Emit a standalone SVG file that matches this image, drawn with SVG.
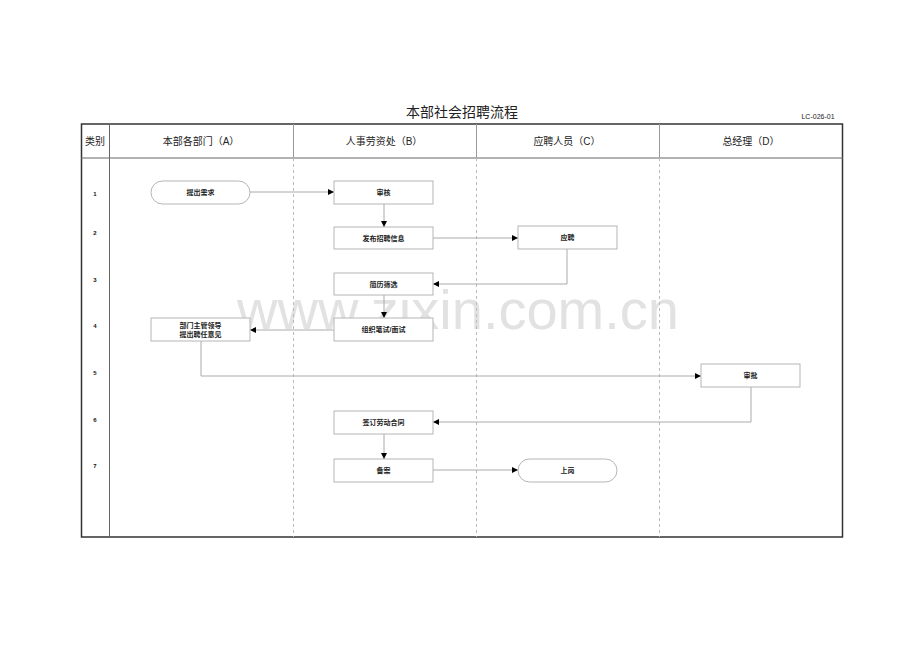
<svg xmlns="http://www.w3.org/2000/svg" width="920" height="651" viewBox="0 0 920 651">
<defs>
<marker id="ah" viewBox="0 0 10 10" refX="10" refY="5" markerWidth="6" markerHeight="6" markerUnits="userSpaceOnUse" orient="auto">
<path d="M0,0 L10,5 L0,10 z" fill="#000"/>
</marker>
<style>
.t{font-family:"Liberation Sans","Noto Sans CJK SC",sans-serif;fill:#222;}
.hd{font-size:10px;text-anchor:middle;}
.nt{font-size:7px;font-weight:bold;text-anchor:middle;}
.rn{font-size:6px;font-weight:bold;text-anchor:middle;fill:#111;}
.box{fill:#fff;stroke:#b5b5b5;stroke-width:1;}
.cn{fill:none;stroke:#aaa;stroke-width:1;marker-end:url(#ah);}
.lane{stroke:#bbb;stroke-width:1;stroke-dasharray:3,3;}
</style>
</defs>
<rect width="920" height="651" fill="#fff"/>
<text x="462" y="117" class="t" font-size="14" text-anchor="middle">本部社会招聘流程</text>
<text x="818" y="119" class="t" font-size="7" text-anchor="middle">LC-026-01</text>
<text x="458" y="329" font-family="Liberation Sans,sans-serif" font-size="56" fill="#e2e2e2" text-anchor="middle">www.zixin.com.cn</text>
<g id="frame">
<rect x="81.5" y="124" width="761" height="413" fill="none" stroke="#333" stroke-width="1.5"/>
<line x1="81" y1="158" x2="843" y2="158" stroke="#666" stroke-width="1"/>
<line x1="109.5" y1="124" x2="109.5" y2="537" stroke="#666" stroke-width="1"/>
<line x1="293.5" y1="124" x2="293.5" y2="158" stroke="#999"/>
<line x1="476.5" y1="124" x2="476.5" y2="158" stroke="#999"/>
<line x1="659.5" y1="124" x2="659.5" y2="158" stroke="#999"/>
<line x1="293.5" y1="158" x2="293.5" y2="537" class="lane"/>
<line x1="476.5" y1="158" x2="476.5" y2="537" class="lane"/>
<line x1="659.5" y1="158" x2="659.5" y2="537" class="lane"/>
<text x="95" y="145" class="t" font-size="10" text-anchor="middle">类别</text>
<text x="201" y="145" class="t hd">本部各部门（A）</text>
<text x="384" y="145" class="t hd">人事劳资处（B）</text>
<text x="567" y="145" class="t hd">应聘人员（C）</text>
<text x="751" y="145" class="t hd">总经理（D）</text>
<text x="95" y="196" class="t rn">1</text>
<text x="95" y="235" class="t rn">2</text>
<text x="95" y="282" class="t rn">3</text>
<text x="95" y="328" class="t rn">4</text>
<text x="95" y="375" class="t rn">5</text>
<text x="95" y="422" class="t rn">6</text>
<text x="95" y="468" class="t rn">7</text>
</g>
<g id="connectors">
<path class="cn" d="M250,192 H334"/>
<path class="cn" d="M384,204 V227"/>
<path class="cn" d="M433,238 H518"/>
<path class="cn" d="M567,249 V284 H433"/>
<path class="cn" d="M384,295 V318"/>
<path class="cn" d="M334,330 H250"/>
<path class="cn" d="M201,341 V376 H701"/>
<path class="cn" d="M751,387 V422 H433"/>
<path class="cn" d="M384,434 V459"/>
<path class="cn" d="M433,470 H518"/>
</g>
<g id="n1"><rect class="box" x="151" y="181" width="99" height="23" rx="11.5"/><text x="200.5" y="195" class="t nt">提出需求</text></g>
<g id="n2"><rect class="box" x="334" y="181" width="99" height="23"/><text x="383.5" y="195" class="t nt">审核</text></g>
<g id="n3"><rect class="box" x="334" y="227" width="99" height="22"/><text x="383.5" y="240.5" class="t nt">发布招聘信息</text></g>
<g id="n4"><rect class="box" x="518" y="226" width="99" height="23"/><text x="567.5" y="240" class="t nt">应聘</text></g>
<g id="n5"><rect class="box" x="334" y="273" width="99" height="22"/><text x="383.5" y="286.5" class="t nt">简历筛选</text></g>
<g id="n6"><rect class="box" x="334" y="318" width="99" height="23"/><text x="383.5" y="332" class="t nt">组织笔试/面试</text></g>
<g id="n7"><rect class="box" x="151" y="318" width="99" height="23"/><text x="200.5" y="328" class="t nt">部门主管领导</text><text x="200.5" y="337" class="t nt">提出聘任意见</text></g>
<g id="n8"><rect class="box" x="701" y="364" width="99" height="23"/><text x="750.5" y="378" class="t nt">审批</text></g>
<g id="n9"><rect class="box" x="334" y="411" width="99" height="23"/><text x="383.5" y="425" class="t nt">签订劳动合同</text></g>
<g id="n10"><rect class="box" x="334" y="459" width="99" height="23"/><text x="383.5" y="473" class="t nt">备案</text></g>
<g id="n11"><rect class="box" x="518" y="459" width="99" height="23" rx="11.5"/><text x="567.5" y="473" class="t nt">上岗</text></g>
</svg>
